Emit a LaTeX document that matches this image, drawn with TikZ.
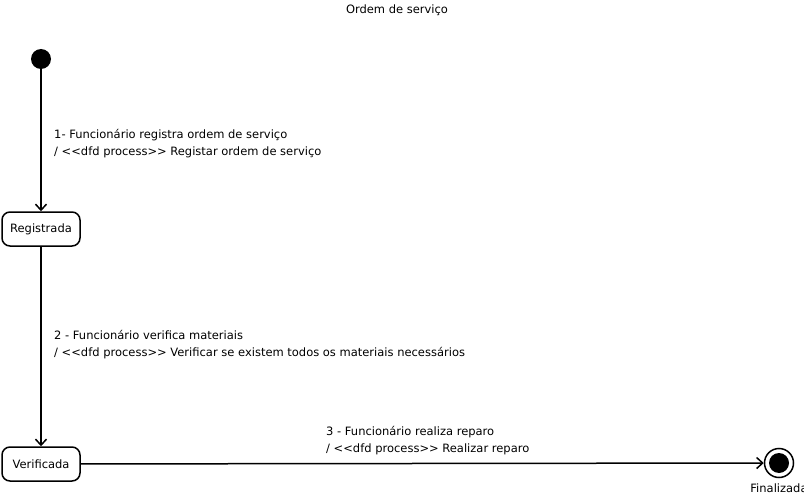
\documentclass[tikz,border=0pt]{standalone}
\usepackage{fontspec}
\setmainfont{DejaVu Sans}
\usetikzlibrary{arrows.meta,positioning}

\begin{document}
\begin{tikzpicture}[
  x=1pt, y=-1pt,
  font=\fontsize{11.5}{17}\selectfont,
  state/.style={draw, line width=1.5pt, rounded corners=8pt, minimum width=78pt, minimum height=34pt, inner sep=0pt},
  lbl/.style={anchor=base west, align=left, inner sep=0pt},
  flow/.style={->, line width=1.5pt},
  >={Straight Barb[length=6pt, width=11pt, line width=1.5pt]}
]
  \useasboundingbox (0,0) rectangle (804,495);

  % Nodes
  \node[anchor=base] (title) at (397,14) {Ordem de serviço};
  \node[circle, fill, minimum size=20pt, inner sep=0pt] (init) at (41,59) {};
  \node[state] (reg) at (41,229) {Registrada};
  \node[state] (ver) at (41,464) {Verificada};
  \node[circle, draw, line width=1.5pt, minimum size=29pt, inner sep=0pt] (fim) at (779,463) {};
  \fill (fim.center) circle (10);
  \node[anchor=base] (fimtxt) at (779,492) {Finalizada};

  % Labels (anchored at the baseline of the second line)
  \node[lbl] (lblA) at (54,155) {1- Funcionário registra ordem de serviço\\/ {<}{<}dfd process{>}{>} Registar ordem de serviço};
  \node[lbl] (lblB) at (54,356) {2 - Funcionário verifica materiais\\/ {<}{<}dfd process{>}{>} Verificar se existem todos os materiais necessários};
  \node[lbl] (lblC) at (326,452) {3 - Funcionário realiza reparo\\/ {<}{<}dfd process{>}{>} Realizar reparo};

  % Arrows
  \draw[flow] (init) -- (reg);
  \draw[flow] (reg) -- (ver);
  \draw[flow] (ver) -- (fim);
\end{tikzpicture}
\end{document}
